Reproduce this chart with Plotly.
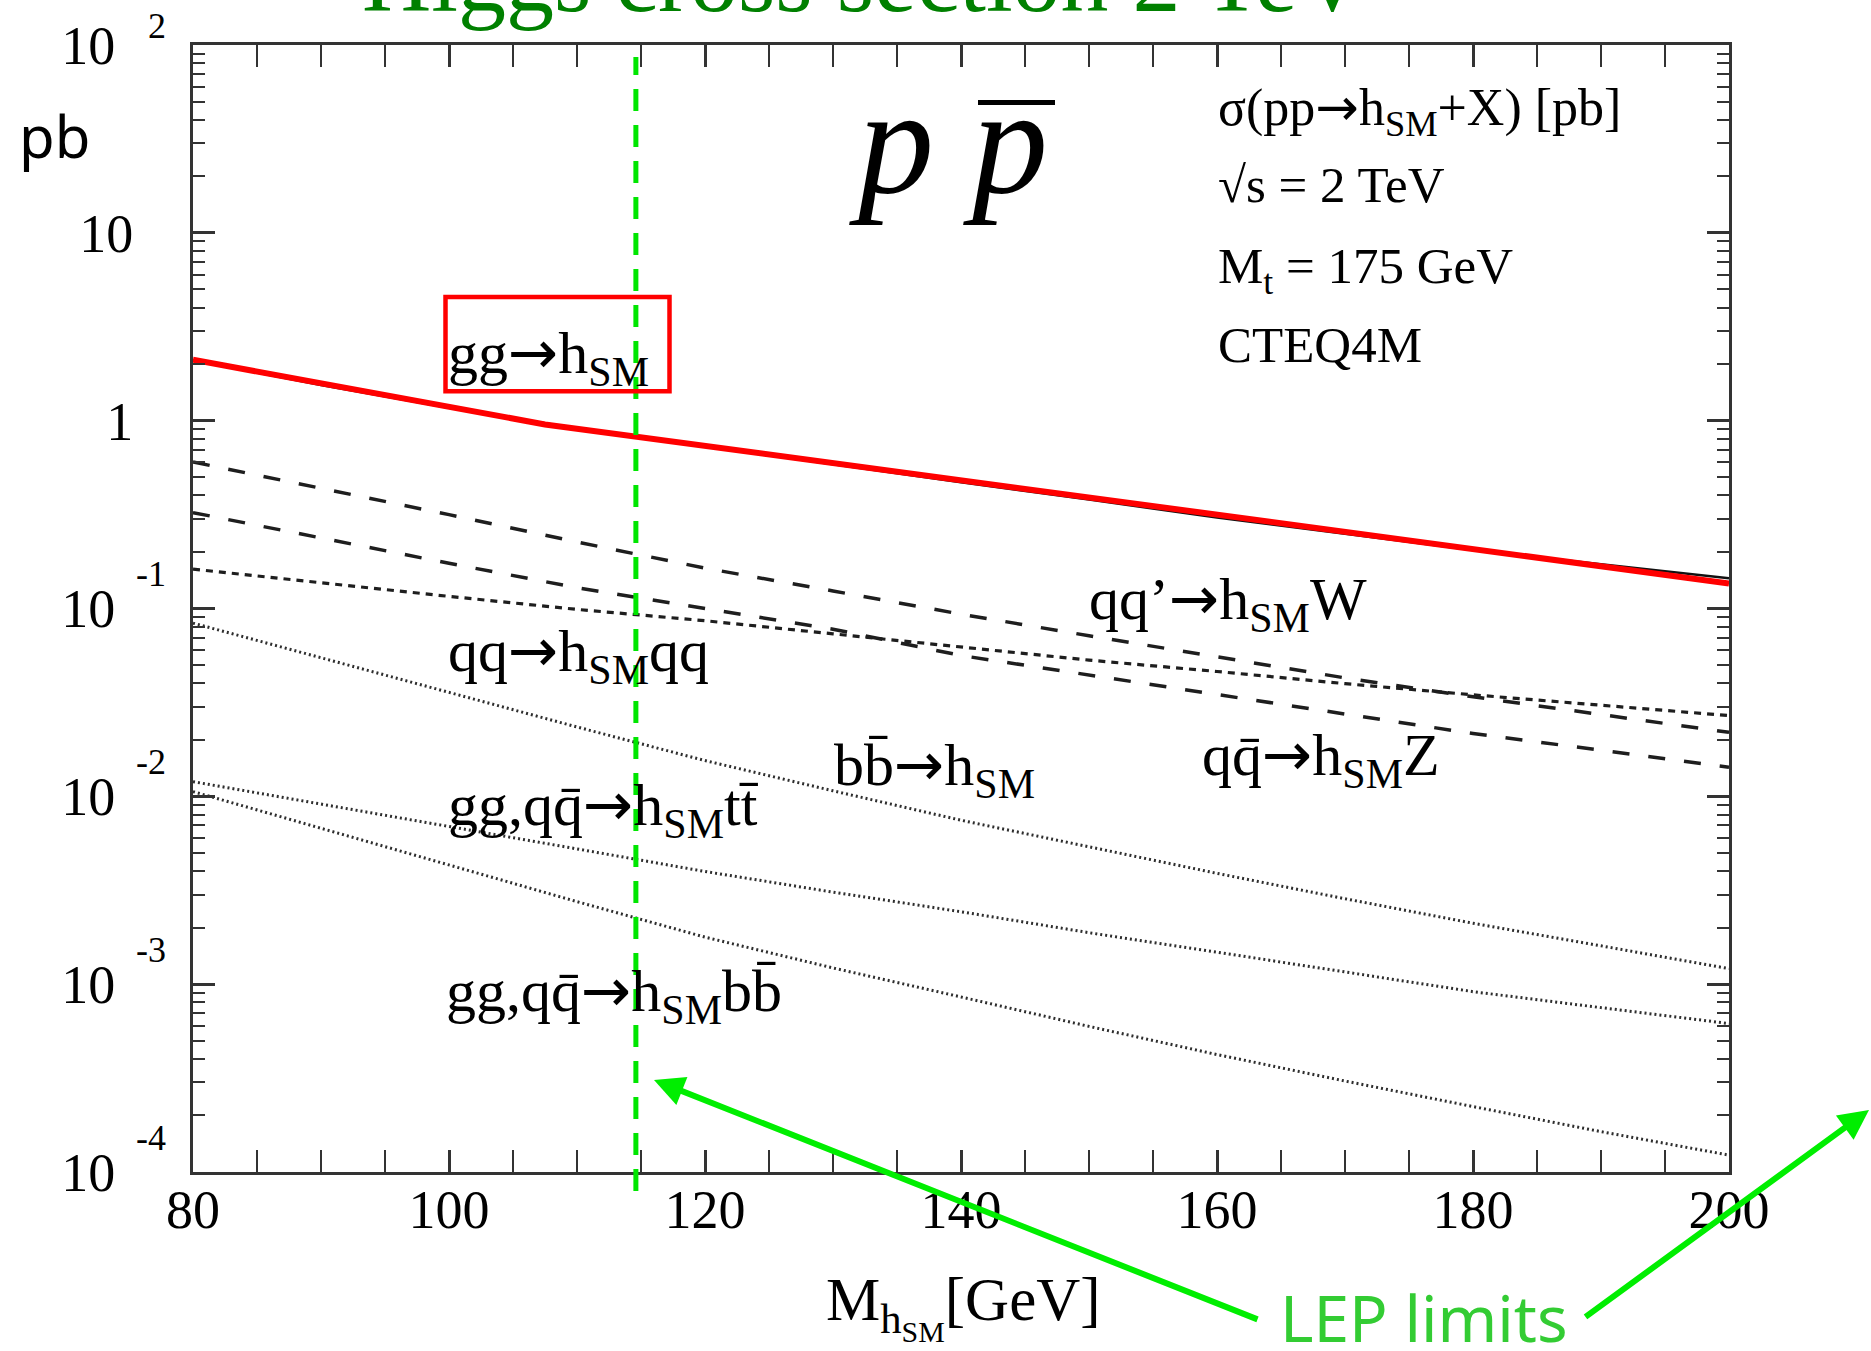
import plotly.graph_objects as go

# ---------------- data ----------------
mass = [80, 90, 100, 110, 120, 130, 140, 150, 160, 170, 180, 190, 200]
sigma_gg_h = [2.10, 1.55, 1.17, 0.91, 0.73, 0.585, 0.47, 0.38, 0.305, 0.25, 0.205, 0.172, 0.145]
sigma_hW = [0.603, 0.437, 0.316, 0.226, 0.164, 0.124, 0.0933, 0.0716, 0.0550, 0.0427, 0.0339, 0.0272, 0.0219]
sigma_hZ = [0.324, 0.237, 0.174, 0.129, 0.100, 0.0776, 0.0562, 0.0442, 0.0347, 0.0272, 0.0216, 0.0176, 0.0143]
sigma_hqq = [0.162, 0.1365, 0.116, 0.0989, 0.0861, 0.0733, 0.0624, 0.0531, 0.0462, 0.0398, 0.0347, 0.0305, 0.0269]
sigma_bb_h = [0.0836, 0.0547, 0.0358, 0.0234, 0.0155, 0.0107, 0.00746, 0.00537, 0.00389, 0.00285, 0.00211, 0.0016, 0.00121]
sigma_htt = [0.01197, 0.00912, 0.00692, 0.00525, 0.00398, 0.00309, 0.00243, 0.00188, 0.00148, 0.00116, 0.000912, 0.00075, 0.000617]
sigma_hbb = [0.0106, 0.00676, 0.00432, 0.00275, 0.00178, 0.00122, 0.000855, 0.000596, 0.000422, 0.000305, 0.000223, 0.000164, 0.000123]
highlight_mass = [80, 107.5, 200]
highlight_sigma = [2.11, 0.955, 0.136]
lep_limit = 114.6

x_ticks = [80, 100, 120, 140, 160, 180, 200]
y_exponents = [-4, -3, -2, -1, 0, 1, 2]

# ---------------- geometry helpers ----------------
W, H = 1871, 1351
L, R, T, B = 193, 1729, 45, 1172


def xp(px):
    return (px - L) / (R - L)


def yp(py):
    return (B - py) / (B - T)


SERIF = "Liberation Serif"
SANS = "Noto Sans"
ARROW = "<span style='font-family:DejaVu Sans'>→</span>"


def label(text, left, baseline, size, family=SERIF, color="black", ascent=0.891):
    top = baseline - ascent * size - 2
    return dict(text=text, x=xp(left - 3), y=yp(top), xref="paper", yref="paper",
                xanchor="left", yanchor="top", showarrow=False,
                font=dict(family=family, size=size, color=color))


fig = go.Figure()

line_col = "#1e1e1e"
dot_col = "#2e2e2e"
fig.add_trace(go.Scatter(x=mass, y=sigma_gg_h, mode="lines",
                         line=dict(color="#111111", width=2.5)))
fig.add_trace(go.Scatter(x=mass, y=sigma_hW, mode="lines",
                         line=dict(color=line_col, width=3.5, dash="17px,19px")))
fig.add_trace(go.Scatter(x=mass, y=sigma_hZ, mode="lines",
                         line=dict(color=line_col, width=3.5, dash="17px,19px")))
fig.add_trace(go.Scatter(x=mass, y=sigma_hqq, mode="lines",
                         line=dict(color=line_col, width=3.2, dash="7px,6px")))
fig.add_trace(go.Scatter(x=mass, y=sigma_bb_h, mode="lines",
                         line=dict(color=dot_col, width=3, dash="2px,3px")))
fig.add_trace(go.Scatter(x=mass, y=sigma_htt, mode="lines", yaxis="y3",
                         line=dict(color=dot_col, width=3, dash="2px,3px")))
fig.add_trace(go.Scatter(x=mass, y=sigma_hbb, mode="lines", yaxis="y2",
                         line=dict(color=dot_col, width=3, dash="2px,3px")))
fig.add_trace(go.Scatter(x=highlight_mass, y=highlight_sigma, mode="lines",
                         line=dict(color="#ff0000", width=6)))

pad = "<span style='color:rgba(0,0,0,0)'>-</span>"
main_ticktext = []
exp_ticktext = []
top_ticktext = []
for e in y_exponents:
    if e == 0:
        main_ticktext.append("1")
        exp_ticktext.append("")
        top_ticktext.append("")
    elif e == 1:
        main_ticktext.append("10")
        exp_ticktext.append("")
        top_ticktext.append("")
    elif e == 2:
        main_ticktext.append("10" + pad)
        exp_ticktext.append("")
        top_ticktext.append(str(e))
    else:
        main_ticktext.append("10" + pad)
        exp_ticktext.append(str(e))
        top_ticktext.append("")
tickvals = [10.0 ** e for e in y_exponents]
minor_y = [m * 10.0 ** e for e in range(-4, 2) for m in range(2, 10)]

axis_common = dict(showline=True, linecolor="#333333", linewidth=3, mirror="allticks",
                   ticks="inside", tickcolor="#333333", tickwidth=2.5, ticklen=22,
                   showgrid=False, zeroline=False, automargin=False,
                   tickfont=dict(family=SERIF, size=54, color="black"))

exp_axis = dict(type="log", range=[-4, 2], overlaying="y", side="left", anchor="x",
                tickvals=tickvals, showline=False, ticks="", showgrid=False, zeroline=False,
                ticklabelstandoff=26, automargin=False,
                tickfont=dict(family=SERIF, size=36, color="black"))

fig.update_layout(
    width=W, height=H,
    margin=dict(l=L, r=W - R, t=T, b=H - B, pad=0, autoexpand=False),
    paper_bgcolor="white", plot_bgcolor="white",
    showlegend=False, hovermode=False,
    xaxis=dict(range=[80, 200], tickvals=x_ticks, ticktext=[str(v) for v in x_ticks],
               minor=dict(dtick=5, tick0=80, ticks="inside", ticklen=12, tickwidth=2,
                          tickcolor="#333333", showgrid=False),
               ticklabelstandoff=-12,
               **axis_common),
    yaxis=dict(type="log", range=[-4, 2], tickvals=tickvals, ticktext=main_ticktext,
               minor=dict(tickmode="array", tickvals=minor_y, ticks="inside", ticklen=12,
                          tickwidth=2, tickcolor="#333333", showgrid=False),
               ticklabelstandoff=46,
               **axis_common),
    yaxis2=dict(ticktext=exp_ticktext, ticklabelshift=-35, **exp_axis),
    yaxis3=dict(ticktext=top_ticktext, ticklabelshift=-20, **exp_axis),
)

# LEP limit vertical line
fig.add_shape(type="line", x0=lep_limit, x1=lep_limit, xref="x", yref="paper",
              y0=yp(1191), y1=yp(57), line=dict(color="#00e600", width=5, dash="22px,14px"))
# red box around gg->h label
fig.add_shape(type="rect", xref="paper", yref="paper", x0=xp(445.5), x1=xp(669.5),
              y0=yp(391.3), y1=yp(297), line=dict(color="#ff0000", width=4.5))
# bar over second p
fig.add_shape(type="line", xref="paper", yref="paper", x0=xp(978), x1=xp(1055),
              y0=yp(102.5), y1=yp(102.5), line=dict(color="black", width=5))

ann = []
# title (partly cut at the top of the page)
ann.append(dict(text="Higgs cross section 2 TeV", x=xp(360), y=yp(34), xref="paper", yref="paper",
                xanchor="left", yanchor="bottom", showarrow=False,
                font=dict(family=SERIF, size=96, color="#008000")))
ann.append(label("pb", 20, 158, 58, family=SANS, ascent=1.069))
ann.append(dict(text="<i>p p</i>", x=xp(847), y=yp(192.7 - 0.891 * 152 - 2), xref="paper", yref="paper",
                xanchor="left", yanchor="top", showarrow=False,
                font=dict(family=SERIF, size=152, color="black")))
ann.append(label("σ(pp" + ARROW + "h<sub>SM</sub>+X) [pb]", 1219, 123, 52))
ann.append(label("√s = 2 TeV", 1219, 202, 51))
ann.append(label("M<sub>t</sub> = 175 GeV", 1219, 283, 51))
ann.append(label("CTEQ4M", 1219, 362, 51))

ann.append(label("gg" + ARROW + "h<sub>SM</sub>", 449, 370, 60))
ann.append(label("qq" + ARROW + "h<sub>SM</sub>qq", 449, 668, 60))
ann.append(label("gg,qq\u0304" + ARROW + "h<sub>SM</sub>tt\u0304", 449, 822, 60))
ann.append(label("gg,qq\u0304" + ARROW + "h<sub>SM</sub>bb\u0304", 447, 1008, 60))
ann.append(label("bb\u0304" + ARROW + "h<sub>SM</sub>", 835, 782, 60))
ann.append(label("qq’" + ARROW + "h<sub>SM</sub>W", 1090, 616, 60))
ann.append(label("qq\u0304" + ARROW + "h<sub>SM</sub>Z", 1203, 772, 60))

ann.append(label("M<sub>h<sub>SM</sub></sub>[GeV]", 827, 1320, 61))
ann.append(label("LEP limits", 1281, 1342, 64, family=SANS, color="#33cc33", ascent=1.069))

# arrows from "LEP limits"
for head, tail in [((654, 1080), (1259, 1320)), ((1869, 1110), (1584, 1318))]:
    ann.append(dict(text="", x=xp(head[0]), y=yp(head[1]), xref="paper", yref="paper",
                    showarrow=True, ax=tail[0] - head[0], ay=tail[1] - head[1],
                    arrowhead=2, arrowsize=1, arrowwidth=6, arrowcolor="#00ee00", standoff=0))

fig.update_layout(annotations=ann)
fig.write_html("out.html")
